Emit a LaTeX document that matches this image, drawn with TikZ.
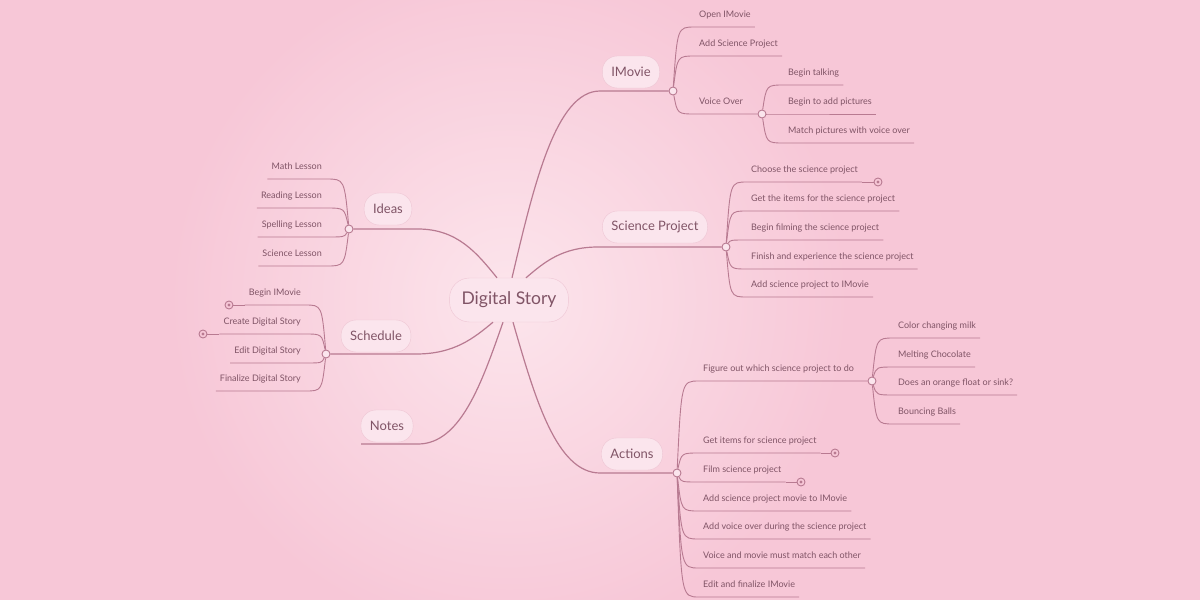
\documentclass[tikz,border=0pt]{standalone}
\usepackage{fontspec}
\setmainfont{Lato}
\usetikzlibrary{calc,positioning}

\begin{document}
\begin{tikzpicture}[x=1pt, y=-1pt, font=\fontsize{9}{10}\selectfont,
  branch/.style={to path={.. controls ($(\tikztostart |- \tikztotarget)!0.2!(\tikztotarget)$) .. (\tikztotarget)}},
  mainbranch/.style={to path={.. controls ($0.5*(\tikztostart)+0.25*(\tikztostart |- \tikztotarget)+0.25*(\tikztotarget)$)
      and ($(\tikztostart |- \tikztotarget)!0.5!(\tikztotarget)$) .. (\tikztotarget)}},
  link/.style={draw=linemauve, line width=0.9pt},
  mainlink/.style={draw=linemauve, line width=1.2pt},
  root/.style={draw=boxedge, fill=boxpink, rounded corners=20pt, text=textmauve, font=\fontsize{17.5}{20}\selectfont, minimum height=44pt, inner xsep=12pt},
  topic/.style={draw=boxedge, fill=boxpink, rounded corners=15pt, text=textmauve, font=\fontsize{13}{15}\selectfont, minimum height=32pt, inner xsep=9pt},
  leaf/.style={text=textmauve, inner xsep=4pt, inner ysep=7pt, text height=7pt, text depth=2pt, anchor=south west},
  leafl/.style={leaf, anchor=south east},
  hub/.style={circle, draw=linemauve, fill=boxpink, line width=0.9pt, inner sep=0pt, minimum size=8pt},
  marker/.style={hub, fill=bgpink, path picture={\fill[linemauve] (path picture bounding box.center) circle (1.6pt);}}]

  % Define colors
  \definecolor{bgpink}{RGB}{247,199,215}
  \definecolor{glowpink}{RGB}{252,229,236}
  \definecolor{linemauve}{RGB}{184,122,145}
  \definecolor{textmauve}{RGB}{128,84,102}
  \definecolor{boxpink}{RGB}{251,229,237}
  \definecolor{boxedge}{RGB}{238,198,212}

  % Background with glow round the centre
  \useasboundingbox (0,0) rectangle (1200,600);
  \clip (0,0) rectangle (1200,600);
  \fill[bgpink] (0,0) rectangle (1200,600);
  \shade[inner color=glowpink, outer color=bgpink] (509,300) circle (340);

  % Central topic
  \node[root] (ds) at (509,300) {Digital Story};

  % Main topics
  \node[topic] (imovie)   at (631,72)  {IMovie};
  \node[topic] (sci)      at (655,227) {Science Project};
  \node[topic] (actions)  at (632,454) {Actions};
  \node[topic] (ideas)    at (388,209) {Ideas};
  \node[topic] (schedule) at (376,336) {Schedule};
  \node[topic] (notes)    at (387,426) {Notes};

  % Junctions
  \node[hub] (jim) at (673,91)  {};
  \node[hub] (jsp) at (726,247) {};
  \node[hub] (jac) at (677,473) {};
  \node[hub] (jid) at (349,229) {};
  \node[hub] (jsc) at (326,354) {};
  \node[hub] (jvo) at (762,114) {};
  \node[hub] (jfo) at (872,381) {};

  % Entry points under the topics
  \coordinate (imin) at (600,91);
  \coordinate (spin) at (598,247);
  \coordinate (acin) at (600,473);
  \coordinate (idin) at (418,229);
  \coordinate (scin) at (416,354);
  \coordinate (noin) at (418,444);
  \coordinate (noend) at (361,444);

  % Links from the centre
  \draw[mainlink] ([xshift=3pt]ds.north) to[mainbranch] (imin) -- (jim);
  \draw[mainlink] ([xshift=17pt]ds.north) to[mainbranch] (spin) -- (jsp);
  \draw[mainlink] ([xshift=4pt]ds.south) to[mainbranch] (acin) -- (jac);
  \draw[mainlink] ([xshift=-12pt]ds.north) to[mainbranch] (idin) -- (jid);
  \draw[mainlink] ([xshift=-16pt]ds.south) to[mainbranch] (scin) -- (jsc);
  \draw[mainlink] ([xshift=-6pt]ds.south) to[mainbranch] (noin) -- (noend);

  % IMovie
  \foreach \i/\y/\txt in {1/27/Open IMovie, 2/56/Add Science Project} {
    \node[leaf] (im\i) at (695,\y) {\txt};
    \draw[link] (jim) to[branch] (im\i.south west) -- (im\i.south east);
  }
  \node[leaf] (im3) at (695,114) {Voice Over};
  \draw[link] (jim) to[branch] (im3.south west) -- (jvo);
  \foreach \i/\y/\txt in {1/85/Begin talking, 2/114/Begin to add pictures, 3/143/Match pictures with voice over} {
    \node[leaf] (vo\i) at (784,\y) {\txt};
    \draw[link] (jvo) to[branch] (vo\i.south west) -- (vo\i.south east);
  }

  % Science Project
  \foreach \i/\y/\txt in {1/182/Choose the science project, 2/211/Get the items for the science project,
      3/240/Begin filming the science project, 4/269/Finish and experience the science project,
      5/297/Add science project to IMovie} {
    \node[leaf] (sp\i) at (747,\y) {\txt};
    \draw[link] (jsp) to[branch] (sp\i.south west) -- (sp\i.south east);
  }
  \node[marker] (mksp) at (878,182) {};
  \draw[link] (sp1.south east) -- (mksp);

  % Actions
  \node[leaf] (ac1) at (699,381) {Figure out which science project to do};
  \draw[link] (jac) to[branch] (ac1.south west) -- (jfo);
  \foreach \i/\y/\txt in {2/453/Get items for science project, 3/482/Film science project,
      4/511/Add science project movie to IMovie, 5/539/Add voice over during the science project,
      6/568/Voice and movie must match each other, 7/597/Edit and finalize IMovie} {
    \node[leaf] (ac\i) at (699,\y) {\txt};
    \draw[link] (jac) to[branch] (ac\i.south west) -- (ac\i.south east);
  }
  \node[marker] (mkac2) at (835,453) {};
  \node[marker] (mkac3) at (801,482) {};
  \draw[link] (ac2.south east) -- (mkac2);
  \draw[link] (ac3.south east) -- (mkac3);
  \foreach \i/\y/\txt in {1/338/Color changing milk, 2/367/Melting Chocolate,
      3/395/Does an orange float or sink?, 4/424/Bouncing Balls} {
    \node[leaf] (fo\i) at (894,\y) {\txt};
    \draw[link] (jfo) to[branch] (fo\i.south west) -- (fo\i.south east);
  }

  % Ideas
  \foreach \i/\y/\txt in {1/179/Math Lesson, 2/208/Reading Lesson, 3/237/Spelling Lesson, 4/266/Science Lesson} {
    \node[leafl] (id\i) at (326,\y) {\txt};
    \draw[link] (jid) to[branch] (id\i.south east) -- (id\i.south west);
  }

  % Schedule
  \foreach \i/\y/\txt in {1/305/Begin IMovie, 2/334/Create Digital Story, 3/363/Edit Digital Story, 4/391/Finalize Digital Story} {
    \node[leafl] (sc\i) at (305,\y) {\txt};
    \draw[link] (jsc) to[branch] (sc\i.south east) -- (sc\i.south west);
  }
  \node[marker] (mksc1) at (229,305) {};
  \node[marker] (mksc2) at (203,334) {};
  \draw[link] (sc1.south west) -- (mksc1);
  \draw[link] (sc2.south west) -- (mksc2);

\end{tikzpicture}
\end{document}
